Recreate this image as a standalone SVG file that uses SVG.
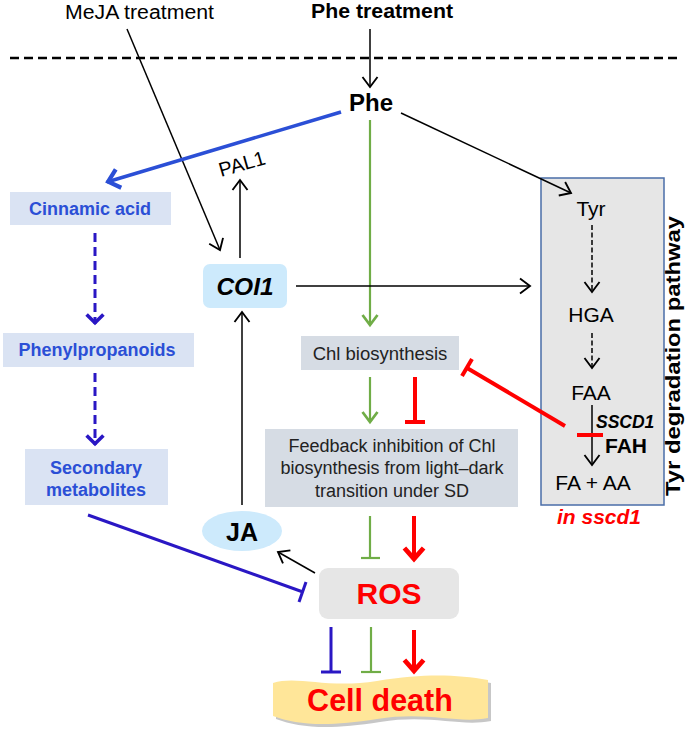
<svg xmlns="http://www.w3.org/2000/svg" width="685" height="735" viewBox="0 0 685 735">
<style>
text{font-family:"Liberation Sans",Arial,sans-serif;}
.blk{stroke:#000;stroke-width:1.5;fill:none;}
.grn{stroke:#70ad47;stroke-width:2.2;fill:none;}
.red{stroke:#ff0000;stroke-width:4;fill:none;}
.dblue{stroke:#2a17c4;fill:none;}
.blab{fill:#2b4fd6;font-weight:bold;font-size:18px;text-anchor:middle;}
.tyr{font-size:21px;text-anchor:middle;fill:#000;}
.fb{font-size:18px;text-anchor:middle;fill:#222;}
.box{fill:#d6dce4;}
.pbox{fill:#dae3f3;}
</style>
<defs>
<marker id="ab" markerUnits="userSpaceOnUse" markerWidth="20" markerHeight="20" viewBox="-10 -8 12 16" refX="0" refY="0" orient="auto">
<path d="M-8,-6 L0,0 L-8,6" fill="none" stroke="#000" stroke-width="1.5"/>
</marker>
<marker id="ag" markerUnits="userSpaceOnUse" markerWidth="20" markerHeight="20" viewBox="-10 -8 12 16" refX="0" refY="0" orient="auto">
<path d="M-8,-6 L0,0 L-8,6" fill="none" stroke="#70ad47" stroke-width="2.2"/>
</marker>
<marker id="ar" markerUnits="userSpaceOnUse" markerWidth="24" markerHeight="24" viewBox="-12 -10 14 20" refX="0" refY="0" orient="auto">
<path d="M-10,-8 L-1,0 L-10,8" fill="none" stroke="#ff0000" stroke-width="4"/>
</marker>
<marker id="abl" markerUnits="userSpaceOnUse" markerWidth="24" markerHeight="24" viewBox="-12 -10 14 20" refX="0" refY="0" orient="auto">
<path d="M-10,-8 L-1,0 L-10,8" fill="none" stroke="#2b4fd6" stroke-width="3.5"/>
</marker>
<marker id="adb" markerUnits="userSpaceOnUse" markerWidth="24" markerHeight="24" viewBox="-12 -10 14 20" refX="0" refY="0" orient="auto">
<path d="M-8,-7 L-1,0 L-8,7" fill="none" stroke="#2a17c4" stroke-width="3"/>
</marker>
</defs>
<rect width="685" height="735" fill="#fff"/>

<!-- treatments and membrane -->
<text x="65" y="19" font-size="20" textLength="149" lengthAdjust="spacingAndGlyphs">MeJA treatment</text>
<text x="311" y="18" font-size="20" font-weight="bold" textLength="142" lengthAdjust="spacingAndGlyphs">Phe treatment</text>
<line x1="10" y1="58" x2="682" y2="58" stroke="#000" stroke-width="2.5" stroke-dasharray="9,5"/>

<g id="tyrbox"><rect x="541" y="178" width="123" height="327" fill="#e6e6e6" stroke="#4a6da8" stroke-width="1.5"/>
<text class="tyr" x="591" y="216">Tyr</text>
<text class="tyr" x="591" y="322">HGA</text>
<text class="tyr" x="591" y="400">FAA</text>
<text x="596" y="428" font-size="17.5" font-weight="bold" font-style="italic">SSCD1</text>
<text x="605" y="453" font-size="21" font-weight="bold">FAH</text>
<text class="tyr" x="593" y="490">FA + AA</text>
</g>
<g id="tyrlabel"><text x="0" y="0" font-size="21" font-weight="bold" text-anchor="middle" textLength="280" lengthAdjust="spacingAndGlyphs" transform="translate(680,356) rotate(-90)">Tyr degradation pathway</text></g>
<g id="insscd1"><text x="599" y="524" font-size="21" font-weight="bold" font-style="italic" fill="#ff0000" text-anchor="middle">in sscd1</text></g>

<g id="phe"><text x="371" y="111" font-size="24" font-weight="bold" text-anchor="middle">Phe</text></g>

<g id="pal1"><text x="0" y="0" font-size="20" transform="translate(221,177) rotate(-16)">PAL1</text></g>

<g id="cinnamic"><rect class="pbox" x="10" y="192" width="161" height="33"/><text class="blab" x="90" y="215">Cinnamic acid</text></g>
<g id="phenylpropanoids"><rect class="pbox" x="3" y="333" width="191" height="34"/><text class="blab" x="97" y="356">Phenylpropanoids</text></g>
<g id="secondary"><rect class="pbox" x="25" y="449" width="143" height="56"/><text class="blab" x="96" y="474">Secondary</text><text class="blab" x="96" y="496">metabolites</text></g>

<g id="coi1"><rect x="203" y="264" width="84" height="44" rx="7" fill="#cdeafc"/><text x="245" y="295" font-size="24.5" font-weight="bold" font-style="italic" text-anchor="middle">COI1</text></g>

<g id="ja"><ellipse cx="242" cy="531" rx="40" ry="20" fill="#cdeafc"/><text x="242" y="541" font-size="25" font-weight="bold" text-anchor="middle">JA</text></g>

<g id="chl"><rect class="box" x="301" y="336" width="158" height="34"/><text x="380" y="360" font-size="18.5" text-anchor="middle" fill="#222">Chl biosynthesis</text></g>

<g id="feedback"><rect class="box" x="265" y="429" width="253" height="78"/>
<text class="fb" x="392" y="452">Feedback inhibition of Chl</text>
<text class="fb" x="392" y="474">biosynthesis from light–dark</text>
<text class="fb" x="392" y="497">transition under SD</text></g>

<g id="ros"><rect x="319" y="568" width="140" height="51" rx="9" fill="#e6e6e6"/><text x="389" y="604" font-size="30" font-weight="bold" fill="#ff0000" text-anchor="middle">ROS</text></g>

<g id="celldeath">
<path d="M276,686 C300,678 330,692 380,684 S460,678 491,683 L491,721 C460,727 430,714 380,722 S300,728 276,719 Z" fill="#999" opacity="0.55"/>
<path d="M273,683 C297,675 327,689 377,681 S457,675 488,680 L488,718 C457,724 427,711 377,719 S297,725 273,716 Z" fill="#ffe699"/>
<text x="380" y="711" font-size="30.5" font-weight="bold" fill="#ff0000" text-anchor="middle">Cell death</text>
</g>

<g id="connectors">
<line class="blk" x1="370" y1="29" x2="370" y2="87" marker-end="url(#ab)"/>
<line class="blk" x1="127" y1="29" x2="220" y2="250" marker-end="url(#ab)"/>
<line x1="341" y1="112" x2="107" y2="182" stroke="#2b4fd6" stroke-width="3.5" marker-end="url(#abl)"/>
<line class="blk" x1="401" y1="113" x2="571" y2="193" marker-end="url(#ab)"/>
<line class="grn" x1="370" y1="120" x2="370" y2="325" marker-end="url(#ag)"/>
<line class="blk" x1="240" y1="258" x2="240" y2="180" marker-end="url(#ab)"/>
<line class="blk" x1="296" y1="286" x2="530" y2="286" marker-end="url(#ab)"/>
<line class="blk" x1="242" y1="505" x2="242" y2="312" marker-end="url(#ab)"/>
<line class="blk" x1="315" y1="573" x2="278" y2="552" marker-end="url(#ab)"/>
<line class="dblue" stroke-width="3" stroke-dasharray="9,5" x1="95" y1="233" x2="95" y2="324" marker-end="url(#adb)"/>
<line class="dblue" stroke-width="3" stroke-dasharray="9,5" x1="95" y1="373" x2="95" y2="445" marker-end="url(#adb)"/>
<line class="blk" stroke-dasharray="5,2.5" x1="592" y1="225" x2="592" y2="292" marker-end="url(#ab)"/>
<line class="blk" stroke-dasharray="5,2.5" x1="592" y1="333" x2="592" y2="368" marker-end="url(#ab)"/>
<line class="blk" x1="592" y1="405" x2="592" y2="465" marker-end="url(#ab)"/>
<line class="grn" x1="370" y1="377" x2="370" y2="422" marker-end="url(#ag)"/>
<line class="red" x1="415" y1="377" x2="415" y2="422"/>
<line class="red" x1="405" y1="422" x2="425" y2="422"/>
<line class="red" x1="565" y1="426" x2="467" y2="368"/>
<line class="red" x1="462" y1="376" x2="472" y2="359"/>
<line class="red" x1="577" y1="435" x2="603" y2="435"/>
<line class="grn" x1="370" y1="516" x2="370" y2="558"/>
<line class="grn" x1="361" y1="558" x2="380" y2="558"/>
<line class="red" x1="414" y1="516" x2="414" y2="560" marker-end="url(#ar)"/>
<line class="dblue" stroke-width="3" x1="88" y1="515" x2="303" y2="592"/>
<line class="dblue" stroke-width="3" x1="299" y1="602" x2="306" y2="582"/>
<line class="dblue" stroke-width="3" x1="331" y1="627" x2="331" y2="672"/>
<line class="dblue" stroke-width="3" x1="321" y1="672" x2="341" y2="672"/>
<line class="grn" x1="371" y1="627" x2="371" y2="672"/>
<line class="grn" x1="361" y1="672" x2="381" y2="672"/>
<line class="red" x1="414" y1="630" x2="414" y2="672" marker-end="url(#ar)"/>
</g>
</svg>
